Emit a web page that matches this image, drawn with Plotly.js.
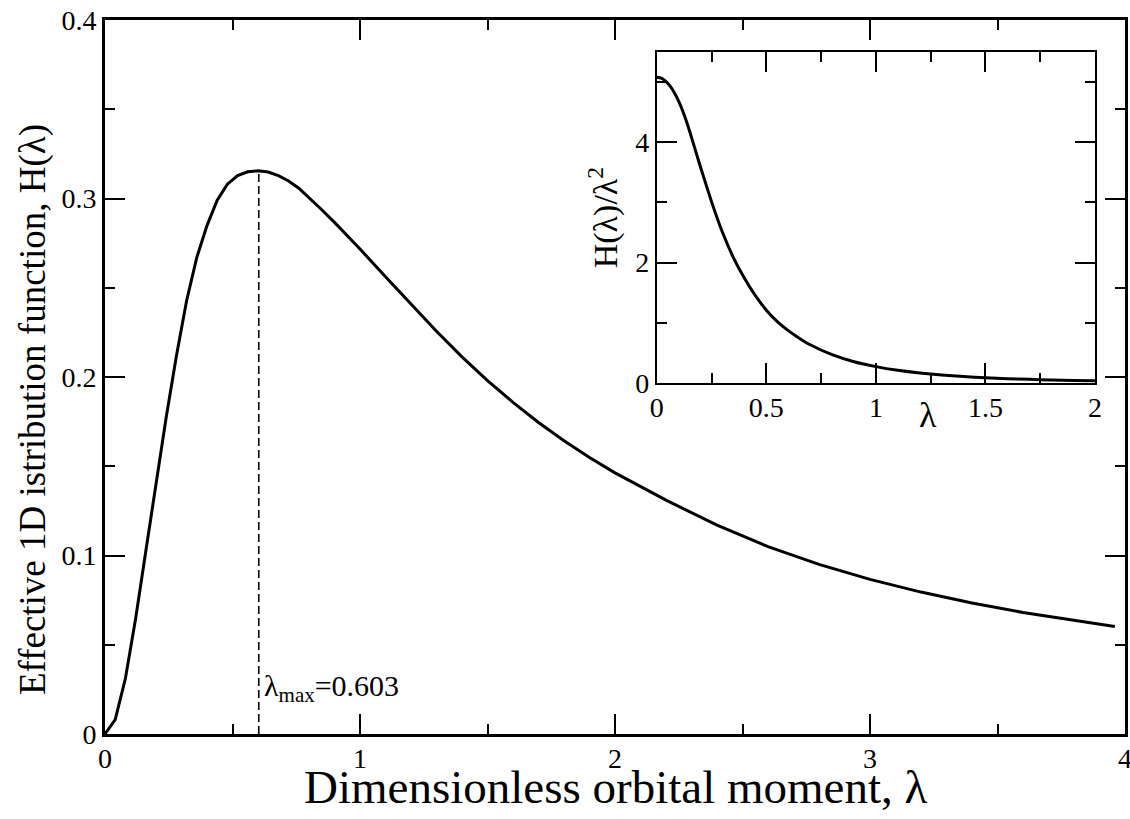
<!DOCTYPE html>
<html>
<head>
<meta charset="utf-8">
<script src="https://cdn.plot.ly/plotly-3.0.1.min.js"></script>
<style>html,body{margin:0;padding:0;background:#fff;}#chart{width:1130px;height:819px;}</style>
</head>
<body>
<div id="chart"></div>
<script>
// Main curve: effective 1D distribution function H(lambda)
const mainLambda = [0, 0.04, 0.08, 0.12, 0.16, 0.20, 0.24, 0.28, 0.32, 0.36, 0.40, 0.44, 0.48, 0.52, 0.56, 0.60, 0.64, 0.68, 0.72, 0.76, 0.80, 0.85, 0.90, 0.95, 1.00, 1.10, 1.20, 1.30, 1.40, 1.50, 1.60, 1.70, 1.80, 1.90, 2.00, 2.20, 2.40, 2.60, 2.80, 3.00, 3.20, 3.40, 3.60, 3.80, 3.96];
const mainH = [0, 0.0081, 0.0311, 0.0645, 0.1024, 0.1408, 0.1774, 0.2117, 0.2427, 0.2670, 0.2848, 0.2990, 0.3080, 0.3128, 0.3150, 0.3155, 0.3148, 0.3128, 0.3098, 0.3058, 0.3005, 0.2937, 0.2866, 0.2793, 0.2717, 0.2562, 0.2406, 0.2256, 0.2113, 0.1980, 0.1858, 0.1745, 0.1643, 0.1549, 0.1463, 0.1310, 0.1170, 0.1050, 0.0950, 0.0866, 0.0795, 0.0734, 0.0681, 0.0636, 0.0602];

// Inset: H(lambda)/lambda^2
const insetLambda = [0, 0.02, 0.04, 0.06, 0.08, 0.10, 0.12, 0.14, 0.16, 0.18, 0.20, 0.25, 0.30, 0.35, 0.40, 0.45, 0.50, 0.55, 0.60, 0.65, 0.70, 0.80, 0.90, 1.00, 1.10, 1.20, 1.30, 1.40, 1.50, 1.60, 1.70, 1.80, 1.90, 2.00];
const insetRatio = [5.08, 5.064, 5.016, 4.936, 4.824, 4.68, 4.504, 4.296, 4.06, 3.82, 3.58, 3.01, 2.50, 2.08, 1.74, 1.45, 1.21, 1.02, 0.87, 0.745, 0.635, 0.47, 0.353, 0.272, 0.211, 0.166, 0.133, 0.107, 0.088, 0.0725, 0.0604, 0.0508, 0.0431, 0.0368];

// Peak marker
const lambdaMax = 0.603;
const hMax = 0.3155;
const peakLabel = "λ<sub>max</sub>=0.603";

const mainXTicks = [0, 1, 2, 3, 4];
const mainYTicks = [0, 0.1, 0.2, 0.3, 0.4];
const insetXTicks = [0, 0.5, 1, 1.5, 2];
const insetYTicks = [0, 2, 4];

const mainXTitle = "Dimensionless orbital moment, λ";
const mainYTitle = "Effective 1D istribution function, H(λ)";
const insetXTitle = "λ";
const insetYTitle = "H(λ)/λ<sup>2</sup>";

const FONT = "Liberation Serif";

const traces = [
  {x: mainLambda, y: mainH, type: "scatter", mode: "lines",
   line: {color: "#000", width: 3}, xaxis: "x", yaxis: "y", hoverinfo: "skip"},
  {x: [lambdaMax, lambdaMax], y: [0, hMax], type: "scatter", mode: "lines",
   line: {color: "#000", width: 1.6, dash: "8px,4px"}, xaxis: "x", yaxis: "y", hoverinfo: "skip"},
  {x: insetLambda, y: insetRatio, type: "scatter", mode: "lines",
   line: {color: "#000", width: 3, shape: "spline", smoothing: 0.5}, xaxis: "x2", yaxis: "y2", hoverinfo: "skip"}
];

function axis(extra) {
  return Object.assign({
    showgrid: false, zeroline: false, showline: true, linecolor: "#000",
    mirror: "allticks", ticks: "inside", tickcolor: "#000", tickwidth: 2, ticklen: 20,
    ticklabeloverflow: "allow",
    tickfont: {family: FONT, size: 28, color: "#000"}
  }, extra);
}
function minor(vals) {
  return {tickvals: vals, ticks: "inside", ticklen: 10, tickwidth: 2, tickcolor: "#000"};
}

const layout = {
  width: 1130, height: 819,
  margin: {l: 105, r: 5, t: 20, b: 85},
  paper_bgcolor: "#fff", plot_bgcolor: "#fff",
  showlegend: false,
  font: {family: FONT, color: "#000"},
  xaxis: axis({range: [0, 4], tickmode: "array", tickvals: mainXTicks, ticktext: mainXTicks.map(String),
               linewidth: 3, ticklabelstandoff: -3, minor: minor([0.5, 1.5, 2.5, 3.5])}),
  yaxis: axis({range: [0, 0.4], tickmode: "array", tickvals: mainYTicks, ticktext: mainYTicks.map(String),
               linewidth: 3, minor: minor([0.05, 0.15, 0.25, 0.35])}),
  xaxis2: axis({domain: [0.541, 0.9706], anchor: "y2", range: [0, 2], tickmode: "array",
                tickvals: insetXTicks, ticktext: insetXTicks.map(String), linewidth: 2,
                ticklabelstandoff: -2, minor: minor([0.25, 0.75, 1.25, 1.75])}),
  yaxis2: axis({domain: [0.4916, 0.9552], anchor: "x2", range: [0, 5.5], tickmode: "array",
                tickvals: insetYTicks, ticktext: insetYTicks.map(String), linewidth: 2,
                minor: minor([1, 3, 5]),
                title: {text: insetYTitle, font: {family: FONT, size: 34, color: "#000"}, standoff: 7}}),
  annotations: [
    {x: lambdaMax + 0.012, y: 0.026, xref: "x", yref: "y", text: peakLabel, showarrow: false,
     xanchor: "left", yanchor: "middle", font: {family: FONT, size: 30, color: "#000"}},
    {x: 0.5, y: -0.0742, xref: "paper", yref: "paper", text: mainXTitle, showarrow: false,
     xanchor: "center", yanchor: "middle", font: {family: FONT, size: 47, color: "#000"}},
    {x: -0.0706, y: 0.455, xref: "paper", yref: "paper", text: mainYTitle, showarrow: false, textangle: -90,
     xanchor: "center", yanchor: "middle", font: {family: FONT, size: 37, color: "#000"}},
    {x: 0.8069, y: 0.4468, xref: "paper", yref: "paper", text: insetXTitle, showarrow: false,
     xanchor: "center", yanchor: "middle", font: {family: FONT, size: 36, color: "#000"}}
  ]
};

Plotly.newPlot("chart", traces, layout, {displayModeBar: false, staticPlot: true});
</script>
</body>
</html>
